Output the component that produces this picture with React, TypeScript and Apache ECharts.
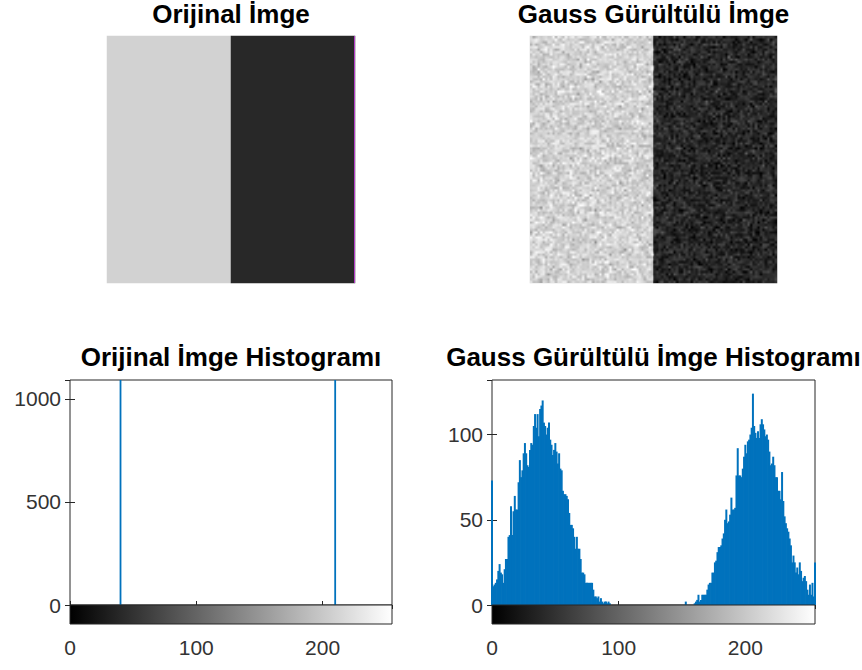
import React, { useEffect, useRef } from "react";
import * as echarts from "echarts";

const titles = [
  "Orijinal İmge",
  "Gauss Gürültülü İmge",
  "Orijinal İmge Histogramı",
  "Gauss Gürültülü İmge Histogramı",
];

// image halves (left light, right dark), gray levels 0..255
const imageHalves = ["sol", "sağ"];
const originalLevels = [210, 40];
const noisyLevels = [210, 40];

// original image histogram: two spikes (clipped at the axis top)
const originalBins = [40, 210];
const originalCounts = [1092, 1092];
const originalYMax = 1092;

// gaussian-noise image histogram, bins 0..255
const noisyCounts = [
  73, 11, 12, 13, 15, 20, 24, 19, 18, 13,
  21, 27, 27, 40, 41, 58, 41, 55, 64, 56,
  56, 72, 85, 75, 79, 89, 95, 89, 82, 81,
  91, 95, 94, 105, 112, 104, 112, 99, 115, 117,
  120, 107, 105, 100, 104, 107, 97, 94, 88, 91,
  95, 90, 83, 89, 80, 79, 67, 65, 65, 64,
  62, 54, 47, 47, 45, 40, 33, 40, 33, 33,
  27, 19, 19, 18, 13, 13, 13, 13, 13, 13,
  9, 5, 5, 4, 5, 2, 4, 2, 1, 2,
  2, 1, 2, 1, 0, 0, 0, 0, 0, 0,
  0, 0, 0, 0, 0, 0, 0, 0, 0, 0,
  0, 0, 0, 0, 0, 0, 0, 0, 0, 0,
  0, 0, 0, 0, 0, 0, 0, 0, 0, 0,
  0, 0, 0, 0, 0, 0, 0, 0, 0, 0,
  0, 0, 0, 0, 0, 0, 0, 0, 0, 0,
  0, 0, 0, 2, 0, 0, 0, 0, 0, 0,
  1, 2, 3, 6, 2, 3, 6, 6, 6, 6,
  9, 12, 13, 13, 19, 19, 25, 26, 31, 34,
  34, 35, 39, 42, 50, 56, 48, 49, 53, 63,
  56, 56, 57, 76, 92, 76, 76, 75, 80, 87,
  94, 89, 96, 97, 100, 104, 124, 105, 101, 98,
  102, 98, 106, 109, 106, 103, 99, 100, 97, 90,
  82, 83, 87, 82, 75, 75, 67, 67, 62, 78,
  61, 52, 48, 45, 43, 39, 35, 25, 29, 25,
  19, 22, 18, 25, 20, 14, 16, 17, 14, 9,
  6, 12, 6, 13, 5, 25,
];
const noisyYMax = 132;

const grayMax = 255;

const FONT = "Liberation Sans, Arial, Helvetica, sans-serif";
const LABEL = "#333333";
const FRAME = "#262626";
const BLUE = "#0072BD";

// layout
const G_IMG1 = { left: 107, top: 36, width: 248, height: 247 };
const G_IMG2 = { left: 530, top: 36, width: 247, height: 247 };
const G_H1 = { left: 70, top: 380, width: 322, height: 225 };
const G_H2 = { left: 492, top: 380, width: 323, height: 225 };
const CBAR_H = 19;

// grain texture for the noisy image (decorative overlay on the data cells)
function makeGrain(size: number, sd: number): string {
  let s = 20240611;
  const rnd = () => {
    s |= 0;
    s = (s + 0x6d2b79f5) | 0;
    let t = Math.imul(s ^ (s >>> 15), 1 | s);
    t = (t + Math.imul(t ^ (t >>> 7), 61 | t)) ^ t;
    return ((t ^ (t >>> 14)) >>> 0) / 4294967296;
  };
  const c = document.createElement("canvas");
  c.width = size;
  c.height = size;
  const ctx = c.getContext("2d");
  if (!ctx) return "";
  const img = ctx.createImageData(size, size);
  for (let y = 0; y < size; y++) {
    for (let x = 0; x < size; x++) {
      const base = x < size / 2 ? noisyLevels[0] : noisyLevels[1];
      const u1 = Math.max(rnd(), 1e-9);
      const u2 = rnd();
      const g = Math.sqrt(-2 * Math.log(u1)) * Math.cos(2 * Math.PI * u2);
      const target = Math.min(255, Math.max(0, base + g * sd));
      const k = (y * size + x) * 4;
      if (target >= base) {
        const a = (target - base) / (255 - base);
        img.data[k] = 255; img.data[k + 1] = 255; img.data[k + 2] = 255;
        img.data[k + 3] = Math.round(a * 255);
      } else {
        const a = (base - target) / base;
        img.data[k] = 0; img.data[k + 1] = 0; img.data[k + 2] = 0;
        img.data[k + 3] = Math.round(a * 255);
      }
    }
  }
  ctx.putImageData(img, 0, 0);
  return c.toDataURL();
}

function histAxes(gridIndex: number) {
  const base = {
    type: "value" as const,
    gridIndex,
    min: 0,
    max: grayMax,
    interval: 100,
    splitLine: { show: false },
    axisLine: { show: false },
  };
  return [
    {
      ...base,
      position: "bottom",
      offset: CBAR_H,
      axisTick: { show: true, inside: true, length: 4, lineStyle: { color: FRAME } },
      axisLabel: {
        show: true,
        margin: 13,
        fontSize: 21,
        fontFamily: FONT,
        color: LABEL,
        showMaxLabel: false,
        formatter: (v: number) => String(v),
      },
    },
    {
      ...base,
      position: "top",
      axisTick: { show: true, inside: true, length: 4, lineStyle: { color: FRAME } },
      axisLabel: { show: false },
    },
    {
      ...base,
      position: "bottom",
      offset: 0,
      axisTick: { show: true, inside: false, length: 4, lineStyle: { color: FRAME } },
      axisLabel: { show: false },
    },
  ];
}

function histYAxes(gridIndex: number, max: number, interval: number) {
  const base = {
    type: "value" as const,
    gridIndex,
    min: 0,
    max,
    interval,
    splitLine: { show: false },
    axisLine: { show: false },
  };
  return [
    {
      ...base,
      position: "left",
      axisTick: { show: true, inside: true, length: 5, lineStyle: { color: FRAME } },
      axisLabel: {
        show: true,
        margin: 9,
        fontSize: 21,
        fontFamily: FONT,
        color: LABEL,
        showMaxLabel: false,
        formatter: (v: number) => String(v),
      },
    },
    {
      ...base,
      position: "right",
      axisTick: { show: true, inside: true, length: 5, lineStyle: { color: FRAME } },
      axisLabel: { show: false },
    },
  ];
}

function colorbar(g: { left: number; top: number; width: number; height: number }) {
  return {
    type: "rect",
    z: 5,
    shape: { x: g.left, y: g.top + g.height, width: g.width, height: CBAR_H },
    style: {
      fill: new echarts.graphic.LinearGradient(0, 0, 1, 0, [
        { offset: 0, color: "#000000" },
        { offset: 1, color: "#ffffff" },
      ]),
      stroke: FRAME,
      lineWidth: 1,
    },
  };
}

export default function App() {
  const ref = useRef<HTMLDivElement>(null);

  useEffect(() => {
    if (!ref.current) return;
    const chart = echarts.init(ref.current, null, { renderer: "svg" });
    const grain = makeGrain(100, 19);

    const titleCenters = [
      [G_IMG1.left + G_IMG1.width / 2, 1],
      [G_IMG2.left + G_IMG2.width / 2, 1],
      [G_H1.left + G_H1.width / 2, 344],
      [G_H2.left + G_H2.width / 2, 344],
    ];

    const option: any = {
      animation: false,
      backgroundColor: "#ffffff",
      title: titles.map((t, i) => ({
        text: t,
        left: titleCenters[i][0],
        top: titleCenters[i][1],
        textAlign: "center",
        padding: 0,
        textStyle: { fontSize: 26, fontWeight: "bold", fontFamily: FONT, color: "#000000" },
      })),
      grid: [
        { ...G_IMG1 },
        { ...G_IMG2 },
        { ...G_H1, show: true, borderColor: FRAME, borderWidth: 1, backgroundColor: "transparent" },
        { ...G_H2, show: true, borderColor: FRAME, borderWidth: 1, backgroundColor: "transparent" },
      ],
      xAxis: [
        { type: "category", gridIndex: 0, data: imageHalves, show: false },
        { type: "category", gridIndex: 1, data: imageHalves, show: false },
        ...histAxes(2),
        ...histAxes(3),
      ],
      yAxis: [
        { type: "category", gridIndex: 0, data: ["r"], show: false },
        { type: "category", gridIndex: 1, data: ["r"], show: false },
        ...histYAxes(2, originalYMax, 500),
        ...histYAxes(3, noisyYMax, 50),
      ],
      visualMap: [
        {
          type: "continuous",
          show: false,
          min: 0,
          max: grayMax,
          seriesIndex: [0, 1],
          inRange: { color: ["#000000", "#ffffff"] },
        },
      ],
      series: [
        {
          type: "heatmap",
          xAxisIndex: 0,
          yAxisIndex: 0,
          data: originalLevels.map((v, i) => [i, 0, v]),
        },
        {
          type: "heatmap",
          xAxisIndex: 1,
          yAxisIndex: 1,
          data: noisyLevels.map((v, i) => [i, 0, v]),
        },
        {
          type: "bar",
          xAxisIndex: 2,
          yAxisIndex: 2,
          barWidth: 1.8,
          clip: true,
          itemStyle: { color: BLUE },
          data: originalBins.map((b, i) => [b, originalCounts[i]]),
        },
        {
          type: "bar",
          xAxisIndex: 5,
          yAxisIndex: 4,
          barWidth: 2,
          clip: true,
          itemStyle: { color: BLUE },
          data: noisyCounts.map((v, i) => [i, v]),
        },
      ],
      graphic: [
        {
          type: "image",
          z: 10,
          x: G_IMG2.left,
          y: G_IMG2.top,
          style: { image: grain, width: G_IMG2.width, height: G_IMG2.height },
        },
        {
          type: "line",
          z: 10,
          shape: {
            x1: G_IMG1.left + G_IMG1.width - 0.5,
            y1: G_IMG1.top,
            x2: G_IMG1.left + G_IMG1.width - 0.5,
            y2: G_IMG1.top + G_IMG1.height,
          },
          style: { stroke: "#b43cc8", lineWidth: 1 },
        },
        colorbar(G_H1),
        colorbar(G_H2),
      ],
    };
    chart.setOption(option);
    return () => chart.dispose();
  }, []);

  return (
    <div
      ref={ref}
      style={{ position: "absolute", left: 0, top: 0, width: 862, height: 670, background: "#fff" }}
    />
  );
}
